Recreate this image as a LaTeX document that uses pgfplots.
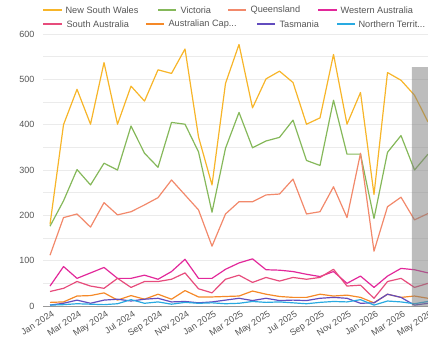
\documentclass[border=0pt]{standalone}
\usepackage{pgfplots}
\usepackage{pgfplotstable}
\pgfplotsset{compat=1.18}
\usepackage{fontspec}
\setmainfont{Liberation Sans}
\definecolor{cNSW}{HTML}{F7B529}
\definecolor{cVIC}{HTML}{85B85A}
\definecolor{cQLD}{HTML}{F2896B}
\definecolor{cWA}{HTML}{E2289A}
\definecolor{cSA}{HTML}{E74C7C}
\definecolor{cACT}{HTML}{F58928}
\definecolor{cTAS}{HTML}{624CBE}
\definecolor{cNT}{HTML}{29AAE1}
\definecolor{txt}{HTML}{555555}
\pgfplotstableread{
i nsw vic qld wa sa act tas nt
0 180 176 112 44 32 8 2 2
1 400 232 195 87 39 9 6 3
2 478 301 203 61 54 22 13 5
3 401 267 174 73 44 23 6 4
4 537 315 228 85 39 29 13 3
5 401 300 201 61 61 13 15 5
6 485 397 208 61 41 23 11 14
7 452 337 223 68 54 15 15 6
8 521 306 239 59 54 26 17 9
9 513 405 278 76 59 15 9 4
10 567 401 245 103 73 34 10 8
11 373 340 212 61 38 20 7 6
12 267 207 132 61 29 20 9 7
13 491 348 203 81 59 21 13 5
14 577 427 230 95 68 22 17 6
15 437 349 230 104 52 33 12 10
16 501 364 245 80 63 26 17 8
17 518 372 247 79 55 21 12 9
18 493 410 280 76 63 19 13 7
19 401 321 203 70 59 19 12 5
20 415 310 208 65 63 26 17 8
21 555 454 263 76 81 22 19 10
22 401 335 195 50 44 24 17 9
23 471 335 337 66 46 19 6 14
24 246 193 121 41 17 7 7 2
25 515 339 219 66 54 26 26 11
26 498 376 240 83 61 19 19 9
27 465 300 190 80 41 22 2 5
28 406 335 204 73 50 17 6 10
}\datatable
\begin{document}
\begin{tikzpicture}[x=1pt,y=1pt]
\useasboundingbox (0,0) rectangle (428,341);
\begin{axis}[
  at={(43pt,35pt)}, anchor=south west,
  scale only axis, width=385pt, height=272pt,
  xmin=-0.52, xmax=28, ymin=0, ymax=600,
  axis x line*=bottom, axis y line*=left,
  y axis line style={draw=none},
  x axis line style={draw=black!40, line width=0.9pt, -},
  major tick length=0pt, minor tick length=0pt,
  ytick={0,100,...,600},
  minor ytick={50,150,...,550},
  ymajorgrids, yminorgrids,
  major grid style={black!8, line width=0.6pt},
  minor grid style={black!8, line width=0.6pt},
  xtick={0,2,...,28},
  xticklabels={Jan 2024,Mar 2024,May 2024,Jul 2024,Sep 2024,Nov 2024,Jan 2025,Mar 2025,May 2025,Jul 2025,Sep 2025,Nov 2025,Jan 2026,Mar 2026,May 2026},
  xticklabel style={rotate=33, anchor=north east, font=\fontsize{9}{10}\selectfont, text=txt, inner sep=1pt, yshift=-3pt},
  yticklabel style={font=\fontsize{9}{10}\selectfont, text=txt, xshift=-5pt},
  /pgf/number format/assume math mode=true,
  every axis plot/.append style={line width=1.2pt, no markers, line join=round},
]
\addplot[cNSW] table[x=i,y=nsw]{\datatable};
\addplot[cVIC] table[x=i,y=vic]{\datatable};
\addplot[cQLD] table[x=i,y=qld]{\datatable};
\addplot[cWA] table[x=i,y=wa]{\datatable};
\addplot[cSA] table[x=i,y=sa]{\datatable};
\addplot[cACT] table[x=i,y=act]{\datatable};
\addplot[cTAS] table[x=i,y=tas]{\datatable};
\addplot[cNT] table[x=i,y=nt]{\datatable};
\addplot[draw=none, fill=black!50, fill opacity=0.52, line width=0pt] coordinates {(26.8,0) (26.8,527) (28.5,527) (28.5,0)} \closedcycle;
\end{axis}
\begin{scope}[every node/.style={anchor=west, inner sep=0pt, font=\fontsize{9.2}{10}\selectfont, text=txt}, line width=1.2pt]
\draw[cNSW] (43,331) -- (62,331); \node at (65,331) {New South Wales};
\draw[cVIC] (158,331) -- (176,331); \node at (180,331) {Victoria};
\draw[cQLD] (228,331) -- (246,331); \node at (250,331) {Queensland};
\draw[cWA] (318,331) -- (337,331); \node at (340,331) {Western Australia};
\draw[cSA] (43,317) -- (62,317); \node at (66,317) {South Australia};
\draw[cACT] (146,317) -- (164,317); \node at (168,317) {Australian Cap...};
\draw[cTAS] (257,317) -- (275,317); \node at (279,317) {Tasmania};
\draw[cNT] (337,317) -- (355,317); \node at (358,317) {Northern Territ...};
\end{scope}
\end{tikzpicture}
\end{document}
